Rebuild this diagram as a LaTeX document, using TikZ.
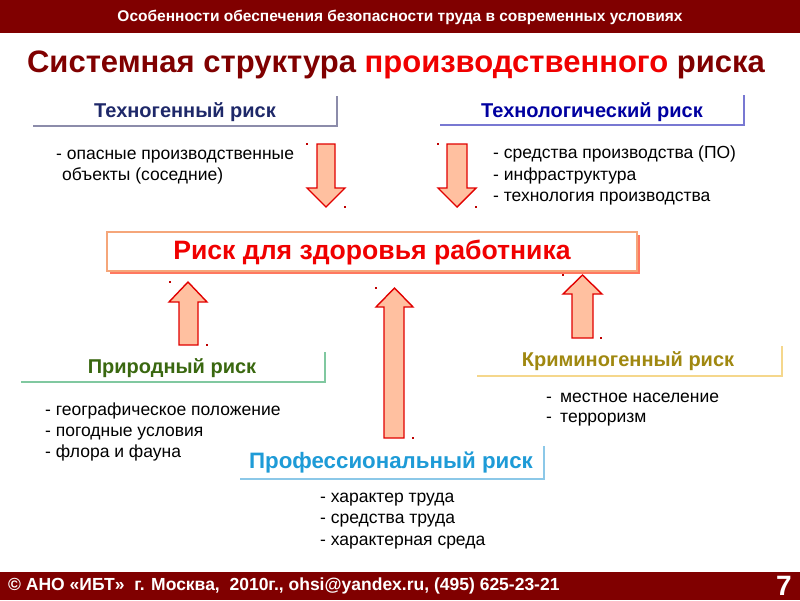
\documentclass[tikz,border=0pt]{standalone}
\usepackage{fontspec}
\setmainfont{Liberation Sans}
\definecolor{barred}{RGB}{128,0,0}
\definecolor{titlered}{RGB}{128,0,0}
\definecolor{brightred}{RGB}{240,0,0}
\definecolor{tgtext}{RGB}{30,40,105}
\definecolor{tgline}{RGB}{140,140,170}
\definecolor{tltext}{RGB}{0,0,160}
\definecolor{tlline}{RGB}{120,120,210}
\definecolor{prtext}{RGB}{58,104,16}
\definecolor{prline}{RGB}{128,200,160}
\definecolor{krtext}{RGB}{160,136,16}
\definecolor{krline}{RGB}{245,215,140}
\definecolor{pftext}{RGB}{30,155,215}
\definecolor{pfline}{RGB}{140,200,232}
\definecolor{mainborder}{RGB}{245,166,122}
\definecolor{mainshadow}{RGB}{255,120,96}
\definecolor{arrfill}{RGB}{255,192,160}
\definecolor{arrline}{RGB}{225,0,0}
\definecolor{dotred}{RGB}{190,0,0}
\begin{document}
\begin{tikzpicture}[x=1pt,y=-1pt,
  lbl/.style={inner sep=0, font=\bfseries\fontsize{20}{24}\selectfont},
  item/.style={inner sep=0, anchor=base west, font=\fontsize{17.5}{20}\selectfont},
  blockarrow/.style={fill=arrfill, draw=arrline, line width=1.4, line join=miter},
  boxline/.style={line width=2.5},
  handle/.style={fill=dotred}
]
\useasboundingbox (0,0) rectangle (800,600);
\fill[white] (0,0) rectangle (800,600);
% header and footer bars
\fill[barred] (0,0) rectangle (800,33);
\fill[barred] (0,572) rectangle (800,600);
\node[inner sep=0, text=white, font=\bfseries\fontsize{15.5}{18}\selectfont] (head) at (400,17) {Особенности обеспечения безопасности труда в современных условиях};
\node[inner sep=0, anchor=base, font=\bfseries\fontsize{31}{36}\selectfont] (title) at (396,72) {\textcolor{titlered}{Системная структура} \textcolor{brightred}{производственного} \textcolor{titlered}{риска}};
\node[inner sep=0, anchor=west, text=white, font=\bfseries\fontsize{17.5}{20}\selectfont] (foot) at (8,586) {© АНО «ИБТ»\ \ г. Москва,\ \ 2010г., ohsi@yandex.ru, (495) 625-23-21};
\node[inner sep=0, text=white, font=\bfseries\fontsize{28}{32}\selectfont] (pnum) at (784,586) {7};

% Техногенный риск
\draw[boxline, tgline] (33,126) -- (337,126) -- (337,96);
\node[lbl, text=tgtext] (tg) at (185,112) {Техногенный риск};
\node[item] (tg1) at (56,159) {- опасные производственные};
\node[item] (tg2) at (62,180) {объекты (соседние)};

% Технологический риск
\draw[boxline, tlline] (440,125) -- (744,125) -- (744,95);
\node[lbl, text=tltext] (tl) at (592,112) {Технологический риск};
\node[item] (tl1) at (493,158) {- средства производства (ПО)};
\node[item] (tl2) at (493,180) {- инфраструктура};
\node[item] (tl3) at (493,201) {- технология производства};

% main box
\fill[mainshadow] (110,235) rectangle (640,274);
\node[draw=mainborder, line width=1.2, fill=white, minimum width=530, minimum height=39, inner sep=0] (main) at (372,251.5) {};
\node[inner sep=0, text=brightred, font=\bfseries\fontsize{26.6}{31}\selectfont] (maintext) at (372,252) {Риск для здоровья работника};

% Природный риск
\draw[boxline, prline] (21,382) -- (325,382) -- (325,352);
\node[lbl, text=prtext] (pr) at (172,368) {Природный риск};
\node[item] (pr1) at (45,415) {- географическое положение};
\node[item] (pr2) at (45,436) {- погодные условия};
\node[item] (pr3) at (45,457) {- флора и фауна};

% Криминогенный риск
\draw[boxline, krline] (477,376) -- (782,376) -- (782,346);
\node[lbl, text=krtext] (kr) at (628,361) {Криминогенный риск};
\node[item] (kr1d) at (546,402) {-};
\node[item] (kr1) at (560,402) {местное население};
\node[item] (kr2d) at (546,422) {-};
\node[item] (kr2) at (560,422) {терроризм};

% Профессиональный риск
\draw[boxline, pfline] (240,479) -- (544,479) -- (544,446);
\node[lbl, text=pftext, font=\bfseries\fontsize{22.3}{26}\selectfont] (pf) at (391,463) {Профессиональный риск};
\node[item] (pf1) at (320,502) {- характер труда};
\node[item] (pf2) at (320,523) {- средства труда};
\node[item] (pf3) at (320,545) {- характерная среда};

% block arrows
\draw[blockarrow] (317,144) -- (335,144) -- (335,188) -- (345,188) -- (326,207) -- (307,188) -- (317,188) -- cycle;
\draw[blockarrow] (447,144) -- (467,144) -- (467,188) -- (476,188) -- (457,207) -- (438,188) -- (447,188) -- cycle;
\draw[blockarrow] (179,345) -- (198,345) -- (198,302) -- (207,302) -- (188,282) -- (169,302) -- (179,302) -- cycle;
\draw[blockarrow] (384,438) -- (404,438) -- (404,307) -- (413,307) -- (394.5,288) -- (376,307) -- (384,307) -- cycle;
\draw[blockarrow] (572,338) -- (593,338) -- (593,294) -- (602,294) -- (582.5,275) -- (563,294) -- (572,294) -- cycle;

% selection handles
\foreach \p in {(307,144),(345,207),(438,144),(476,207),(170,282),(207,345),(376,288),(413,438),(563,275),(601,338)}
  \fill[handle] \p ++(-0.8,-0.8) rectangle ++(1.6,1.6);
\end{tikzpicture}
\end{document}
